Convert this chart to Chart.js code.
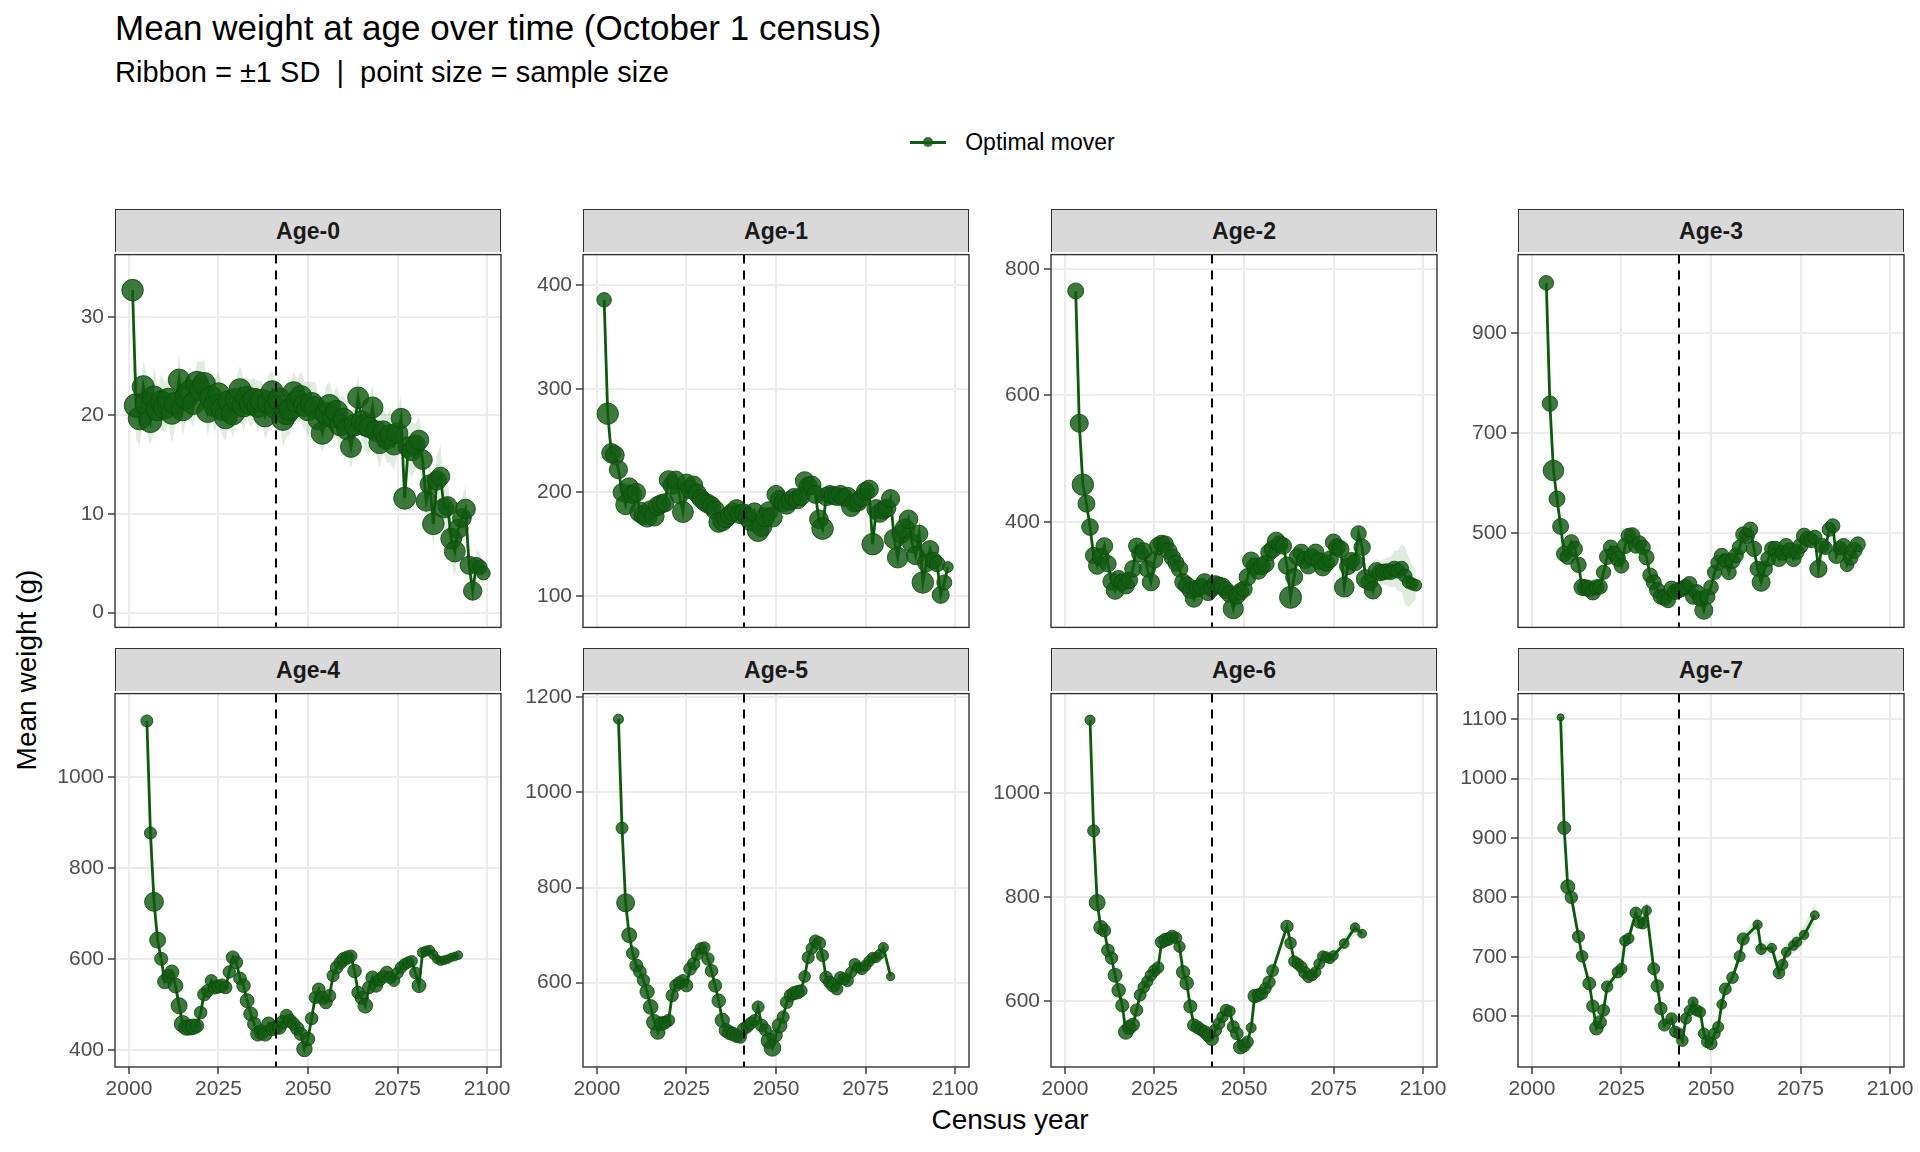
<!DOCTYPE html>
<html>
<head>
<meta charset="utf-8">
<title>Mean weight at age over time</title>
<script src="https://cdn.jsdelivr.net/npm/chart.js@4.4.1/dist/chart.umd.min.js"></script>
<style>
  html, body { margin: 0; padding: 0; background: #fff; }
  body { position: relative; width: 1920px; height: 1152px; overflow: hidden;
         font-family: "Liberation Sans", Arial, Helvetica, sans-serif; color: #000; }
  .abs { position: absolute; }
  #title { left: 115px; top: 10px; font-size: 35px; line-height: 35px; white-space: nowrap; }
  #subtitle { left: 115px; top: 58px; font-size: 29px; line-height: 29px; white-space: nowrap; }
  #legend { left: 0; width: 1920px; top: 128px; height: 28px; display: flex; justify-content: center;
            align-items: center; font-size: 23px; padding-left: 104px; box-sizing: border-box; }
  #legend .key { position: relative; width: 38px; height: 28px; margin-right: 18px; }
  #legend .kline { position: absolute; left: 1px; right: 1px; top: 12.5px; height: 3px; background: #0A5C0A; }
  #legend .kdot { position: absolute; left: 14px; top: 9px; width: 10px; height: 10px; border-radius: 50%;
                  background: rgba(18, 92, 18, 0.85); }
  .strip { background: #D9D9D9; border: 1.4px solid #333; border-bottom: none; box-sizing: border-box;
           font-weight: bold; font-size: 23px; color: #1A1A1A; display: flex; align-items: center;
           justify-content: center; }
  #xtitle { left: 0; width: 1920px; padding-left: 100px; box-sizing: border-box; text-align: center;
            top: 1106px; font-size: 28px; line-height: 28px; }
  #ytitle { left: 27px; top: 670px; font-size: 28px; line-height: 28px; white-space: nowrap;
            transform: translate(-50%, -50%) rotate(-90deg); }
  canvas { position: absolute; }
</style>
</head>
<body>
<div id="title" class="abs">Mean weight at age over time (October 1 census)</div>
<div id="subtitle" class="abs">Ribbon = ±1 SD&nbsp; |&nbsp; point size = sample size</div>
<div id="legend" class="abs"><span class="key"><span class="kline"></span><span class="kdot"></span></span><span>Optimal mover</span></div>
<div id="xtitle" class="abs">Census year</div>
<div id="ytitle" class="abs">Mean weight (g)</div>

<script>
// ---- data (one value per census year, starting at the panel's first year; null = no census value) ----
const panelNames = ["Age-0", "Age-1", "Age-2", "Age-3", "Age-4", "Age-5", "Age-6", "Age-7"];
const firstYears = [2001, 2002, 2003, 2004, 2005, 2006, 2007, 2008];
const referenceYear = 2041;
const xTicks = [2000, 2025, 2050, 2075, 2100];
const xLimits = [1996.1, 2103.9];

const meanAge0 = [32.7,21.0,19.7,22.9,21.2,19.4,21.8,20.6,21.4,20.8,
  21.6,20.2,21.2,23.6,20.6,21.8,22.4,21.2,23.3,22.6,
  23.2,20.4,21.8,21.0,22.2,20.6,19.8,21.4,20.2,21.6,
  22.6,21.0,21.8,21.2,21.6,20.9,21.5,20.0,21.3,22.4,
  20.8,21.6,19.6,20.2,20.6,22.3,21.4,21.9,21.0,20.6,
  21.2,20.8,19.6,18.2,20.2,21.0,19.8,20.4,19.0,19.6,
  18.6,16.8,19.0,21.8,19.4,19.0,18.8,20.8,18.4,17.2,
  18.4,17.6,18.0,17.0,18.2,19.7,11.6,16.8,16.4,17.0,
  17.5,15.5,11.3,13.0,9.0,13.4,13.8,10.6,10.8,7.5,
  6.2,8.5,9.6,10.5,4.8,2.2,4.8,4.6,4.0];
const sdAge0 = [1.2,3.4,2.8,2.6,3.0,2.4,3.2,2.2,2.8,2.6,
  2.4,3.0,2.2,2.6,2.8,2.0,2.6,2.4,2.2,2.8,
  2.4,2.6,2.0,2.8,2.2,2.6,2.4,2.0,2.6,2.2,
  2.4,2.8,2.0,2.4,2.2,2.6,2.0,2.4,2.8,2.2,
  2.6,2.0,2.8,2.4,2.6,2.2,2.0,2.6,2.4,2.8,
  2.2,2.6,2.4,2.0,2.8,2.4,2.2,2.6,2.8,2.4,
  2.6,2.2,2.8,2.4,2.0,2.6,2.8,2.2,2.4,2.6,
  2.2,2.4,2.8,2.6,2.2,2.4,2.0,2.6,2.8,2.2,
  2.4,2.6,2.2,2.8,2.4,2.6,3.2,2.2,2.8,2.4,
  2.6,2.2,2.0,2.4,1.8,1.4,1.6,1.4,1.2];
const nAge0 = [760,980,900,820,950,870,930,880,820,900,
  860,790,840,760,880,920,850,800,900,780,
  870,820,900,860,780,840,880,820,900,860,
  800,880,840,900,860,820,880,900,840,800,
  860,900,820,880,840,800,860,820,780,860,
  820,800,760,840,780,820,760,800,740,780,
  760,700,740,720,700,760,680,720,700,740,
  680,660,700,640,680,620,800,640,600,620,
  600,580,640,560,760,560,520,600,540,700,
  700,560,520,600,480,500,320,260,200];

const meanAge1 = [386,276,238,236,222,200,188,205,198,200,
  181,178,176,183,177,187,189,190,212,207,
  212,198,181,209,203,207,199,194,191,189,
  187,183,171,172,175,178,181,184,179,180,
  176,172,181,163,167,176,182,176,198,193,
  190,188,192,195,193,196,211,206,207,198,
  174,165,196,198,197,196,198,195,196,186,
  190,191,195,201,203,150,184,180,183,185,
  194,155,137,160,165,174,151,139,160,113,
  132,145,134,131,101,113,128];
const sdAge1 = [22,12,9,8,7,6,6,7,6,6,
  5,5,5,6,5,6,6,6,7,6,
  6,6,5,7,6,6,6,5,5,5,
  5,5,5,5,5,5,6,5,5,5,
  5,5,5,6,6,5,5,5,6,6,
  6,5,6,6,6,6,7,6,6,6,
  6,7,6,6,6,6,6,6,6,6,
  6,6,6,7,7,8,7,7,7,7,
  8,8,9,8,8,8,9,9,9,10,
  9,9,9,10,12,11,10];
const nAge1 = [255,745,560,520,480,460,600,520,480,500,
  640,560,600,520,600,540,500,480,520,500,
  460,520,700,480,520,480,500,460,480,520,
  500,520,600,540,520,480,500,520,540,500,
  520,560,500,760,640,560,520,600,480,500,
  480,520,500,480,500,460,520,480,500,460,
  520,760,480,460,480,460,480,460,500,560,
  500,480,460,480,500,760,520,500,480,460,
  480,600,680,520,600,520,560,500,420,760,
  460,440,380,320,400,280,90];

const meanAge2 = [765,556,459,429,392,347,331,345,362,334,
  306,292,310,305,300,308,326,362,350,354,
  326,305,340,362,366,365,354,344,335,326,
  305,300,292,279,295,298,305,289,295,302,
  300,298,292,286,263,284,290,294,313,339,
  330,323,330,334,352,357,370,365,362,331,
  281,313,345,352,340,331,345,352,338,328,
  335,341,368,360,357,297,330,339,336,382,
  360,310,305,292,323,320,321,322,321,326,
  323,327,315,305,302,300];
const sdAge2 = [18,14,12,11,10,9,9,9,10,9,
  9,10,9,9,10,10,10,10,10,10,
  10,10,10,10,10,10,10,10,10,11,
  11,12,13,14,15,16,15,14,16,15,
  14,13,12,12,12,11,11,11,10,10,
  10,10,10,10,10,10,10,10,10,11,
  12,11,11,11,11,11,11,11,11,12,
  12,12,12,12,13,13,14,14,15,15,
  16,16,17,17,18,19,20,22,24,28,
  32,38,45,40,30,22];
const nAge2 = [335,470,745,400,380,360,420,400,380,360,
  420,460,400,380,420,360,380,340,400,380,
  360,420,360,420,380,360,380,360,340,360,
  380,400,360,420,380,360,400,380,360,380,
  360,400,380,380,640,420,380,360,400,420,
  380,400,380,420,380,400,440,380,360,420,
  800,400,380,360,400,380,360,380,400,380,
  360,380,360,400,380,600,380,360,360,300,
  360,520,380,420,360,340,320,300,280,300,
  260,220,200,160,140,120];

const meanAge3 = [1001,759,625,568,513,458,452,481,468,436,
  391,390,388,381,391,392,421,452,471,458,
  448,434,474,494,495,474,480,471,451,415,
  401,385,372,370,365,388,382,385,388,392,
  398,372,381,368,345,372,391,421,440,454,
  444,421,444,455,471,497,494,507,468,428,
  401,428,448,468,468,448,460,474,465,448,
  462,474,494,488,485,491,428,474,470,507,
  514,454,470,474,436,450,465,477];
const sdAge3 = [14,11,10,9,8,7,7,6,7,6,
  6,6,5,6,6,6,7,6,6,7,
  6,6,7,6,6,7,6,6,6,6,
  6,5,6,6,5,6,6,6,6,6,
  6,6,6,7,7,6,6,7,6,6,
  6,6,6,6,7,7,6,7,7,7,
  7,7,7,6,7,7,7,7,7,7,
  7,7,8,8,8,8,8,9,9,9,
  9,10,10,10,11,11,12,12];
const nAge3 = [255,300,675,335,335,300,280,300,280,300,
  360,340,340,300,280,260,240,300,260,280,
  300,260,300,280,300,260,240,260,280,260,
  280,300,280,300,280,300,300,280,300,280,
  260,280,300,280,470,280,260,240,260,280,
  240,260,280,260,260,280,300,260,300,280,
  470,300,280,260,280,300,280,260,280,300,
  260,280,300,280,260,240,420,260,200,220,
  240,300,220,260,200,260,320,280];

const meanAge4 = [1123,877,726,642,601,551,563,572,542,498,
  458,450,450,452,454,483,523,531,553,538,
  540,542,538,572,604,593,558,542,509,480,
  458,436,440,436,458,447,450,450,462,476,
  465,458,448,436,403,425,470,516,534,515,
  505,520,564,582,592,600,604,607,574,527,
  515,498,538,560,542,555,562,571,560,553,
  570,582,589,593,596,570,542,615,618,620,
  610,600,596,598,600,604,606,609];
const sdAge4 = [12,10,9,8,7,7,6,6,7,6,
  6,5,6,6,6,6,6,6,6,6,
  6,6,6,7,7,7,6,6,6,6,
  6,6,6,6,6,6,6,6,6,6,
  6,6,6,6,7,6,6,6,6,6,
  6,6,6,7,7,7,7,7,6,7,
  7,7,7,7,7,7,7,7,7,7,
  8,8,8,8,8,8,7,10,11,11,
  12,12,12,13,13,12,12,11];
const nAge4 = [135,135,540,335,180,240,200,220,260,335,
  380,300,280,300,200,160,180,160,140,180,
  180,200,160,150,180,160,160,200,220,220,
  200,240,260,240,220,200,180,200,200,170,
  180,160,200,180,300,200,160,140,160,180,
  160,160,140,160,160,200,180,140,200,160,
  180,260,160,180,180,160,140,160,140,120,
  120,120,110,110,100,120,220,80,70,60,
  50,40,40,35,30,30,30,35];

const meanAge5 = [1154,925,768,700,662,636,623,605,581,549,
  517,496,514,516,521,573,594,600,604,594,
  629,640,660,672,674,650,625,594,562,521,
  500,495,492,488,486,503,508,515,521,549,
  510,501,478,463,489,510,528,559,573,578,
  580,583,613,653,672,688,683,657,611,601,
  595,587,611,608,604,622,639,632,629,636,
  645,653,653,660,674,null,613];
const sdAge5 = [14,11,9,8,7,7,7,6,6,6,
  6,6,6,6,6,6,6,6,6,6,
  6,6,7,7,7,7,6,6,6,6,
  6,6,6,6,6,6,6,6,6,6,
  6,6,6,6,6,6,6,6,6,6,
  7,7,7,7,7,7,7,7,7,7,
  7,7,7,7,7,8,8,8,8,8,
  9,9,10,10,11,null,12];
const nAge5 = [70,135,470,275,160,180,160,150,240,260,
  300,240,220,160,140,150,140,140,150,160,
  160,150,130,120,110,150,160,180,200,240,
  200,220,200,180,160,160,150,140,120,140,
  160,140,300,380,160,260,140,160,150,180,
  200,140,120,140,120,130,180,140,160,150,
  230,140,130,140,120,100,110,100,110,100,
  90,80,70,70,70,null,30];

const meanAge6 = [1141,928,790,742,736,698,683,650,621,592,
  541,550,555,583,612,627,638,650,659,665,
  714,718,720,725,722,705,656,635,590,554,
  550,545,541,534,528,544,557,570,583,581,
  551,538,512,515,522,549,610,612,615,625,
  637,659,null,null,null,744,712,677,672,666,
  655,647,650,656,672,687,685,682,688,null,
  null,711,null,null,742,null,730];
const sdAge6 = [14,11,9,8,8,7,7,7,6,6,
  6,6,6,6,6,6,6,6,6,6,
  7,7,7,7,7,7,7,6,6,6,
  6,6,6,6,6,6,6,6,6,6,
  6,6,6,6,6,6,6,6,6,7,
  7,7,null,null,null,10,9,8,8,8,
  8,8,8,8,9,9,9,9,10,null,
  null,11,null,null,13,null,12];
const nAge6 = [70,135,335,225,160,160,150,220,200,180,
  260,220,180,150,130,120,110,120,130,120,
  160,180,160,140,120,110,190,200,180,160,
  160,140,160,160,200,150,130,110,120,100,
  140,160,220,180,120,70,200,160,140,120,
  150,130,null,null,null,150,120,100,110,120,
  140,120,100,90,90,80,90,70,60,null,
  null,60,null,null,50,null,40];

const meanAge7 = [1103,917,818,800,null,734,701,null,655,617,
  580,590,610,650,null,null,674,680,727,731,
  null,774,758,756,778,null,680,651,613,585,
  null,596,574,571,559,596,610,624,610,607,
  571,557,554,571,582,620,646,null,665,null,
  701,730,null,null,null,754,713,null,null,715,
  null,673,687,708,null,719,725,null,737,null,
  null,770];
const sdAge7 = [14,12,10,9,null,8,8,null,8,8,
  8,8,8,9,null,null,9,9,10,10,
  null,12,12,12,14,null,9,8,8,8,
  null,8,8,8,8,8,8,9,9,9,
  8,8,8,8,8,9,9,null,10,null,
  10,11,null,null,null,12,11,null,null,12,
  null,12,12,13,null,14,14,null,16,null,
  null,20];
const nAge7 = [11,177,225,150,null,140,120,null,170,150,
  200,170,130,110,null,null,110,100,90,90,
  null,120,130,90,60,null,130,150,150,130,
  null,120,110,100,120,100,80,70,110,90,
  100,130,140,110,100,60,130,null,120,null,
  100,140,null,null,null,50,90,null,null,50,
  null,120,90,60,null,60,60,null,50,null,
  null,40];

const yLimits = [[-1.5, 36.3], [69.6, 429.7], [233.5, 822.4], [310.6, 1057.6],
                 [363.5, 1183], [422.8, 1207.7], [473.5, 1192], [514.6, 1143]];
const yTicks = [[0, 10, 20, 30], [100, 200, 300, 400], [400, 600, 800], [500, 700, 900],
                [400, 600, 800, 1000], [600, 800, 1000, 1200], [600, 800, 1000],
                [600, 700, 800, 900, 1000, 1100]];

const means = [meanAge0, meanAge1, meanAge2, meanAge3, meanAge4, meanAge5, meanAge6, meanAge7];
const sds = [sdAge0, sdAge1, sdAge2, sdAge3, sdAge4, sdAge5, sdAge6, sdAge7];
const sizes = [nAge0, nAge1, nAge2, nAge3, nAge4, nAge5, nAge6, nAge7];

// ---- look ----
const FONT = '"Liberation Sans", Arial, Helvetica, sans-serif';
const LINE = '#0A5C0A';
const PT_FILL = 'rgba(18, 92, 18, 0.82)';
const PT_EDGE = 'rgba(10, 75, 10, 0.85)';
const RIBBON = 'rgba(20, 110, 20, 0.13)';
const GRID = '#EBEBEB';
const TICK_SIZE = 21;

const colLeft = [115, 583, 1051, 1518];
const plotW = 386;
const rowTop = [252, 691];
const rowBottom = [630, 1067];
const stripH = 43;
const yAxisW = 62, padTop = 14, padRight = 24;

Chart.defaults.font.family = FONT;

function radiusFor(n) {
  if (n == null) return 0;
  return 2.5 + 9.5 * Math.sqrt(n / 1000);
}

const panelFrame = {
  id: 'panelFrame',
  afterDatasetsDraw(chart) {
    const { ctx, chartArea: a, scales: { x } } = chart;
    const px = Math.round(x.getPixelForValue(referenceYear));
    ctx.save();
    ctx.strokeStyle = '#000';
    ctx.lineWidth = 2;
    ctx.setLineDash([9, 7]);
    ctx.beginPath();
    ctx.moveTo(px, a.top);
    ctx.lineTo(px, a.bottom);
    ctx.stroke();
    ctx.restore();
  },
  afterDraw(chart) {
    const { ctx, chartArea: a } = chart;
    ctx.save();
    ctx.strokeStyle = '#333';
    ctx.lineWidth = 1.4;
    ctx.strokeRect(a.left, a.top, a.right - a.left, a.bottom - a.top);
    ctx.restore();
  }
};

panelNames.forEach((name, i) => {
  const col = i % 4, row = Math.floor(i / 4);
  const bottomRow = row === 1;
  const xAxisH = bottomRow ? 42 : 0;
  const padBottom = bottomRow ? 0 : 14;
  const plotH = rowBottom[row] - rowTop[row];

  // strip
  const strip = document.createElement('div');
  strip.className = 'strip abs';
  strip.style.left = colLeft[col] + 'px';
  strip.style.top = (rowTop[row] - stripH) + 'px';
  strip.style.width = plotW + 'px';
  strip.style.height = stripH + 'px';
  strip.textContent = name;
  document.body.appendChild(strip);

  // canvas
  const cv = document.createElement('canvas');
  const w = yAxisW + plotW + padRight;
  const h = padTop + plotH + padBottom + xAxisH;
  cv.width = w; cv.height = h;
  cv.style.width = w + 'px'; cv.style.height = h + 'px';
  cv.style.left = (colLeft[col] - yAxisW) + 'px';
  cv.style.top = (rowTop[row] - padTop) + 'px';
  document.body.appendChild(cv);

  const mean = means[i], sd = sds[i], n = sizes[i], y0 = firstYears[i];
  const pts = mean.map((v, k) => ({ x: y0 + k, y: v }));
  const lo = mean.map((v, k) => ({ x: y0 + k, y: v == null ? null : v - sd[k] }));
  const hi = mean.map((v, k) => ({ x: y0 + k, y: v == null ? null : v + sd[k] }));

  new Chart(cv, {
    type: 'line',
    data: {
      datasets: [
        {
          label: 'Optimal mover',
          data: pts,
          borderColor: LINE,
          borderWidth: 2.8,
          backgroundColor: PT_FILL,
          pointBackgroundColor: PT_FILL,
          pointBorderColor: PT_EDGE,
          pointBorderWidth: 1,
          pointRadius: ctx => radiusFor(n[ctx.dataIndex]),
          spanGaps: true,
          tension: 0,
          fill: false
        },
        { label: 'lo', data: lo, borderWidth: 0, borderColor: 'rgba(0,0,0,0)', pointRadius: 0, spanGaps: true, fill: false },
        { label: 'hi', data: hi, borderWidth: 0, borderColor: 'rgba(0,0,0,0)', pointRadius: 0, spanGaps: true, fill: '-1', backgroundColor: RIBBON }
      ]
    },
    options: {
      responsive: false,
      animation: false,
      events: [],
      layout: { padding: { top: padTop, right: padRight, bottom: padBottom, left: 0 } },
      plugins: { legend: { display: false }, tooltip: { enabled: false } },
      scales: {
        x: {
          type: 'linear',
          min: xLimits[0],
          max: xLimits[1],
          afterBuildTicks: s => { s.ticks = xTicks.map(v => ({ value: v })); },
          afterFit: s => { s.height = xAxisH; },
          border: { display: false },
          grid: { color: GRID, lineWidth: 2, drawTicks: bottomRow, tickLength: 7, tickColor: '#333', tickWidth: 1.4 },
          ticks: { display: bottomRow, autoSkip: false, maxRotation: 0, padding: 3, color: '#4D4D4D',
                   font: { size: TICK_SIZE }, callback: v => String(v) }
        },
        y: {
          type: 'linear',
          min: yLimits[i][0],
          max: yLimits[i][1],
          afterBuildTicks: s => { s.ticks = yTicks[i].map(v => ({ value: v })); },
          afterFit: s => { s.width = yAxisW; },
          border: { display: false },
          grid: { color: GRID, lineWidth: 2, drawTicks: true, tickLength: 7, tickColor: '#333', tickWidth: 1.4 },
          ticks: { autoSkip: false, padding: 4, color: '#4D4D4D', font: { size: TICK_SIZE }, callback: v => String(v) }
        }
      }
    },
    plugins: [panelFrame]
  });
});
</script>
</body>
</html>
